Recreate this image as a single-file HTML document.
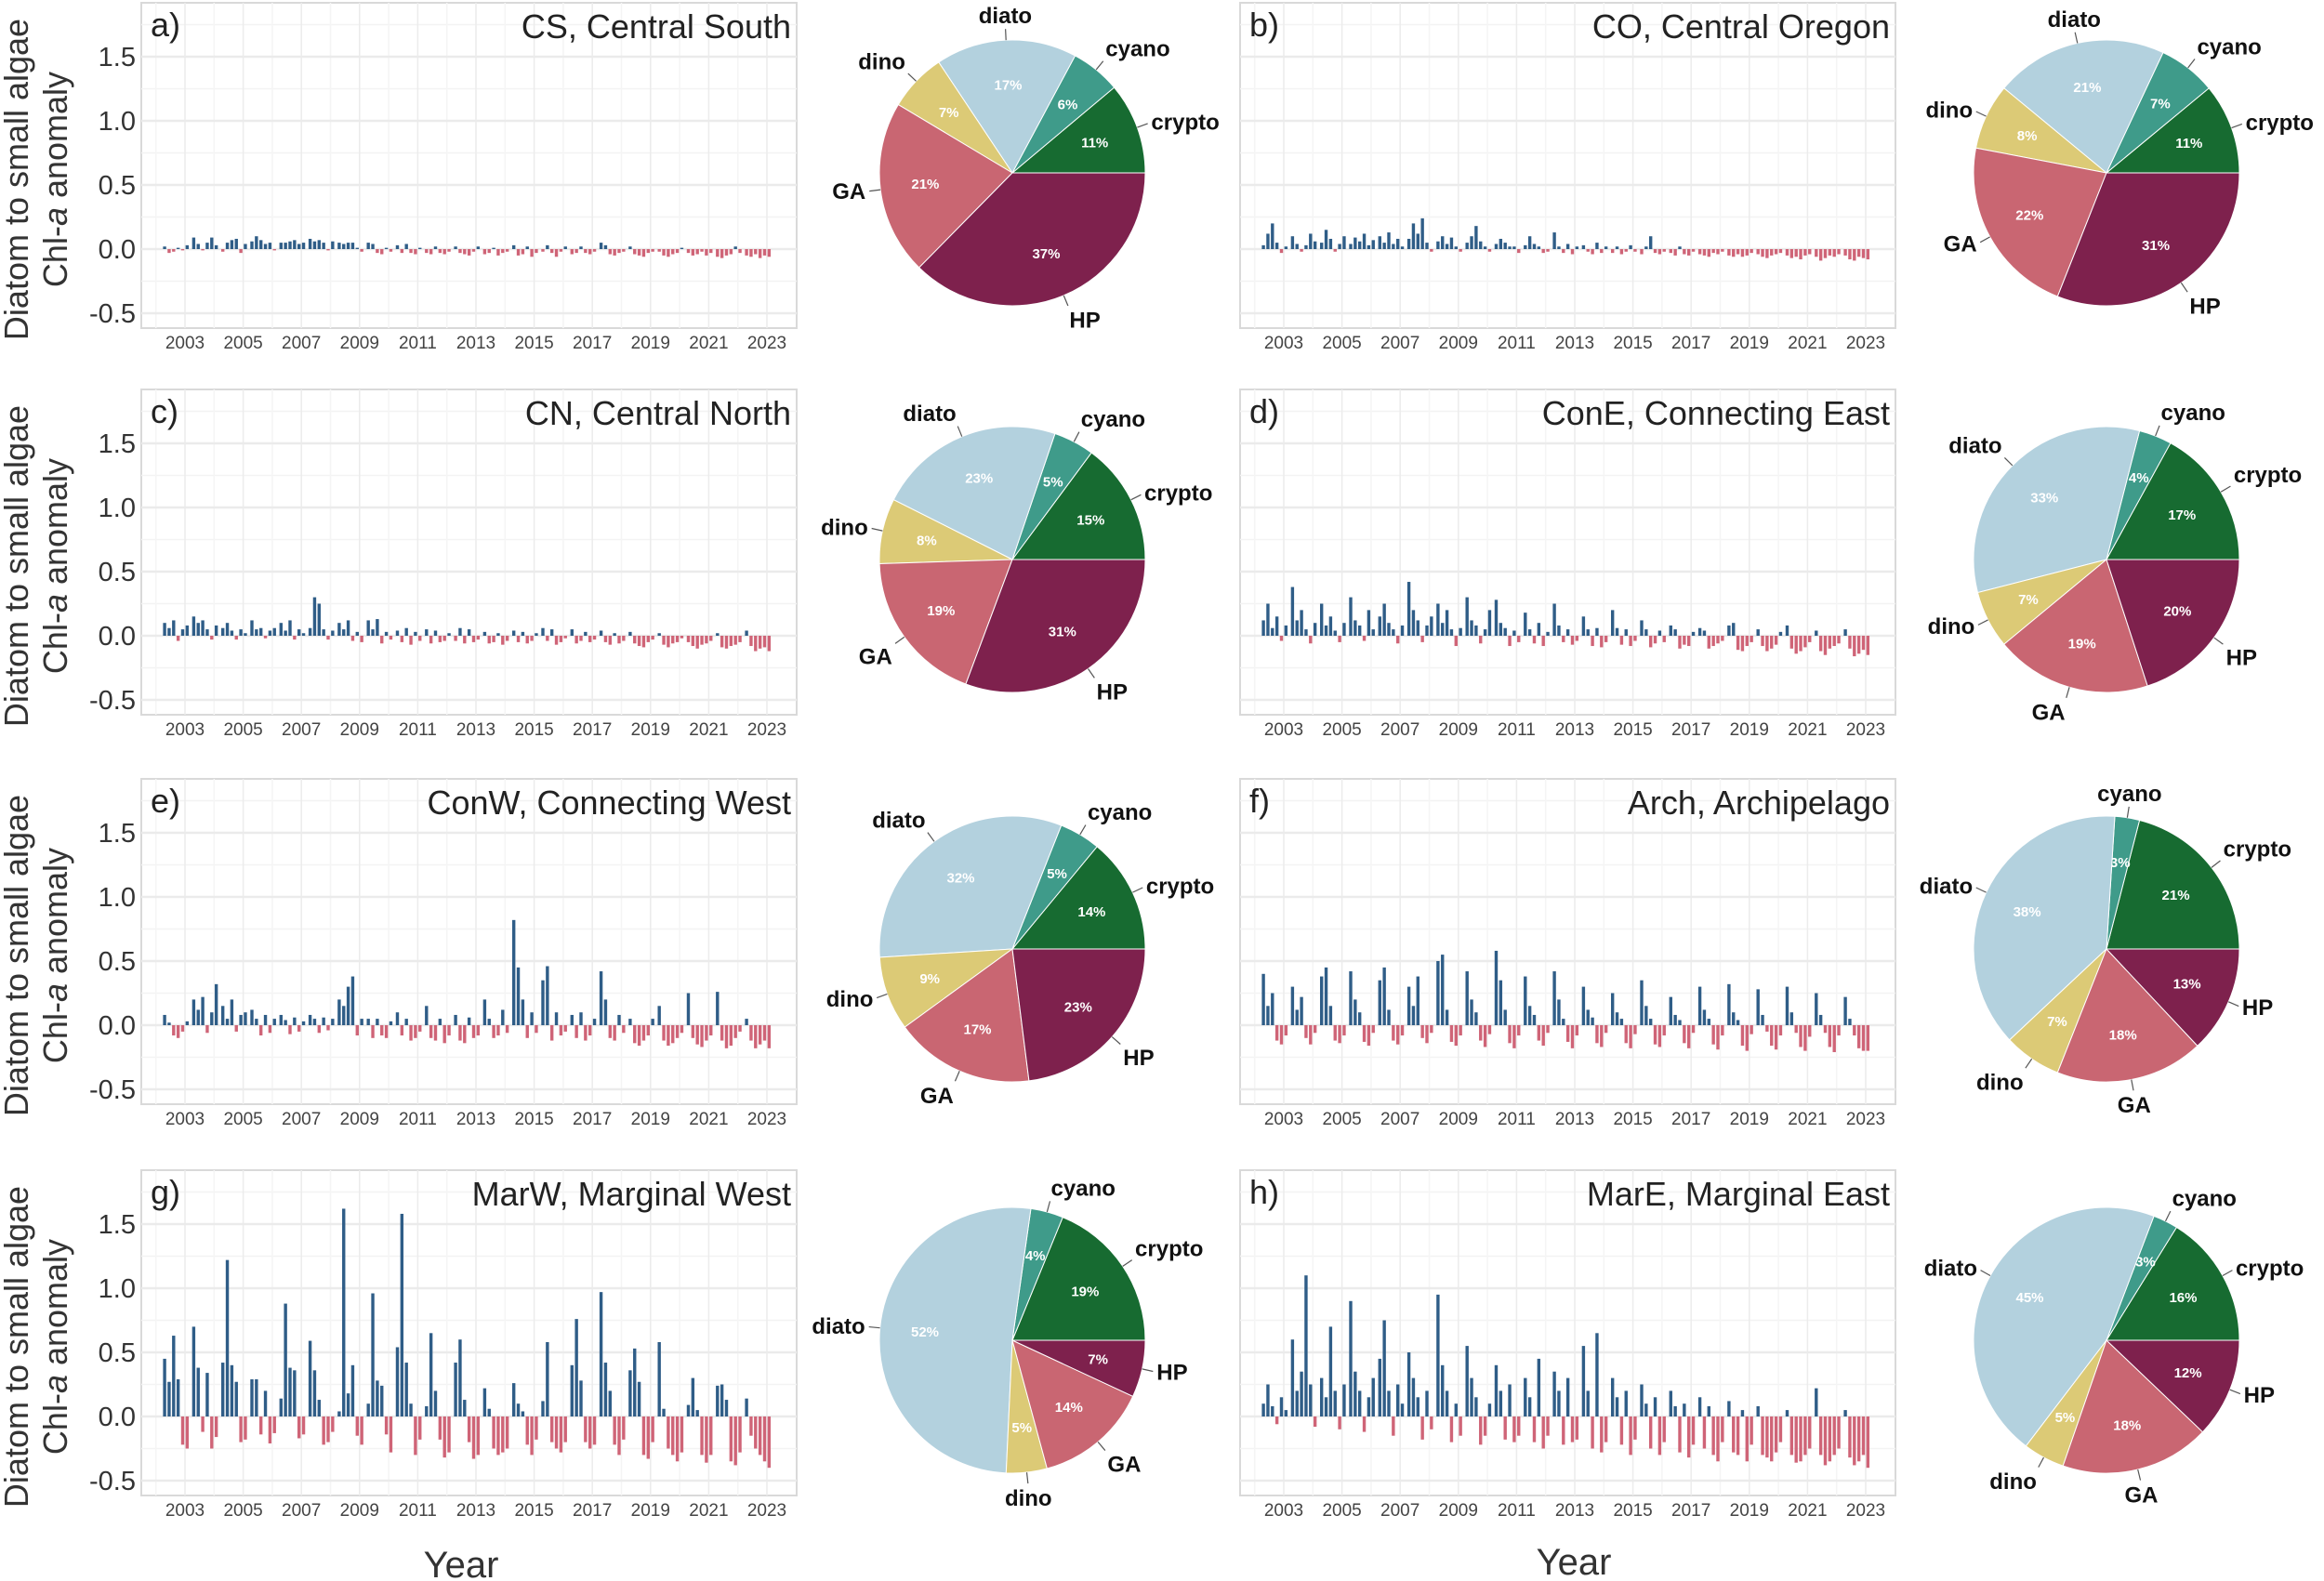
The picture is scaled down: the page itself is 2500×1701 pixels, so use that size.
<!DOCTYPE html>
<html><head><meta charset="utf-8">
<style>
html,body{margin:0;padding:0;background:#fff;}
svg{display:block;}
text{font-family:"Liberation Sans","DejaVu Sans",sans-serif;}
</style></head>
<body>
<svg id="fig" width="2500" height="1701" viewBox="0 0 2500 1701" xmlns="http://www.w3.org/2000/svg"></svg>
<script>
// ---- data ----
const yTicks = [-0.5, 0.0, 0.5, 1.0, 1.5];
const yTickLabels = ["-0.5", "0.0", "0.5", "1.0", "1.5"];
const yearTicks = [2003,2005,2007,2009,2011,2013,2015,2017,2019,2021,2023];
const startYear = 2002;
const pieGroups = ["crypto","cyano","diato","dino","GA","HP"];
const pieColors = ["#176b31","#3f9b8a","#b3d1de","#dcca76","#c96672","#7e214d"];

const seriesCS = [0.02,-0.03,-0.02,0.01,-0.01,0.03, 0.09,0.04,-0.01,0.05,0.09,0.03, -0.02,0.05,0.07,0.08,-0.03,0.04, 0.06,0.1,0.07,0.04,0.05,-0.01, 0.05,0.05,0.06,0.07,0.04,0.05, 0.08,0.06,0.07,0.05,-0.01,0.06, 0.05,0.04,0.05,0.05,0.01,-0.02, 0.05,0.04,-0.03,-0.04,0.01,-0.02, 0.03,-0.03,0.04,-0.03,-0.04,0.01, -0.03,-0.04,0.02,-0.03,-0.04,-0.02, 0.02,-0.03,-0.04,-0.05,-0.02,0.02, -0.04,-0.03,0.01,-0.05,-0.03,-0.02, 0.03,-0.05,-0.04,0.02,-0.06,-0.03, -0.02,0.03,-0.03,-0.06,-0.02,0.02, -0.04,-0.03,0.02,-0.03,-0.04,-0.02, 0.05,0.03,-0.04,-0.05,-0.03,-0.02, 0.02,-0.04,-0.05,-0.06,-0.03,-0.02, -0.02,-0.05,-0.06,-0.04,-0.03,0.01, -0.03,-0.05,-0.04,-0.02,-0.05,-0.03, -0.06,-0.07,-0.05,-0.04,0.02,-0.03, -0.05,-0.06,-0.04,-0.07,-0.05,-0.06];
const seriesCO = [0.03,0.12,0.2,0.05,-0.03,0.02, 0.1,0.04,-0.02,0.03,0.12,0.06, 0.05,0.15,0.08,-0.02,0.04,0.1, 0.04,0.09,0.06,0.12,0.03,0.07, 0.1,0.05,0.13,0.04,0.08,0.02, 0.08,0.2,0.12,0.24,0.05,-0.02, 0.06,0.1,0.04,0.09,0.02,-0.02, 0.05,0.1,0.18,0.06,0.02,-0.02, 0.04,0.08,0.05,0.02,0.02,-0.03, 0.03,0.1,0.04,0.02,-0.03,-0.02, 0.13,0.02,-0.03,0.04,-0.04,0.02, 0.03,-0.02,-0.04,0.05,-0.03,0.02, -0.03,0.02,-0.04,-0.02,0.03,-0.02, -0.04,0.02,0.1,-0.03,-0.04,-0.02, -0.03,-0.05,0.02,-0.04,-0.05,-0.02, -0.04,-0.05,-0.06,-0.03,-0.04,-0.02, -0.05,-0.06,-0.04,-0.06,-0.05,-0.03, -0.04,-0.06,-0.07,-0.05,-0.04,-0.03, -0.05,-0.07,-0.06,-0.08,-0.05,-0.04, -0.06,-0.09,-0.07,-0.05,-0.06,-0.04, -0.05,-0.08,-0.09,-0.06,-0.07,-0.08];
const seriesCN = [0.1,0.06,0.12,-0.04,0.05,0.08, 0.15,0.1,0.12,0.05,-0.03,0.08, 0.06,0.1,0.04,-0.03,0.05,0.02, 0.12,0.05,0.06,-0.02,0.04,0.06, 0.1,0.04,0.12,-0.03,0.05,0.02, 0.06,0.3,0.25,0.05,-0.03,0.04, 0.1,0.05,0.12,-0.04,0.03,-0.05, 0.12,0.05,0.13,-0.06,0.03,-0.03, 0.04,-0.05,0.06,-0.07,0.03,-0.04, 0.05,-0.06,0.04,-0.05,-0.04,0.02, -0.04,0.06,-0.06,0.05,-0.05,-0.03, 0.03,-0.06,-0.05,0.02,-0.07,-0.04, 0.04,-0.05,0.03,-0.06,-0.04,0.02, 0.06,-0.04,0.05,-0.07,-0.05,-0.02, 0.05,-0.06,-0.04,0.03,-0.05,-0.03, 0.04,-0.05,-0.07,0.02,-0.06,-0.04, 0.03,-0.06,-0.08,-0.09,-0.05,-0.03, 0.02,-0.07,-0.09,-0.06,-0.05,-0.02, -0.05,-0.08,-0.1,-0.07,-0.06,-0.04, 0.02,-0.09,-0.1,-0.08,-0.07,-0.05, 0.04,-0.08,-0.12,-0.1,-0.09,-0.12];
const seriesConE = [0.12,0.25,0.06,0.15,-0.04,0.08, 0.38,0.12,0.2,0.05,-0.06,0.1, 0.25,0.08,0.15,0.04,-0.05,0.1, 0.3,0.12,0.08,-0.04,0.2,0.05, 0.15,0.25,0.1,0.05,-0.06,0.08, 0.42,0.2,0.12,-0.05,0.08,0.15, 0.25,0.1,0.2,0.05,-0.08,0.06, 0.3,0.12,0.08,-0.06,0.05,0.2, 0.28,0.1,0.06,-0.08,0.04,-0.05, 0.18,0.05,-0.06,0.1,-0.08,0.03, 0.25,0.08,-0.05,0.05,-0.07,-0.04, 0.15,0.05,-0.08,0.06,-0.09,-0.05, 0.2,0.06,-0.07,0.05,-0.08,-0.04, 0.12,0.05,-0.09,-0.06,0.04,-0.05, 0.08,0.05,-0.1,-0.07,-0.08,0.03, 0.06,0.04,-0.1,-0.08,-0.06,-0.04, 0.08,0.1,-0.11,-0.12,-0.08,-0.05, 0.05,-0.08,-0.12,-0.1,-0.07,0.03, 0.08,-0.1,-0.14,-0.12,-0.09,-0.05, 0.04,-0.12,-0.15,-0.1,-0.08,-0.06, 0.05,-0.1,-0.16,-0.14,-0.11,-0.15];
const seriesConW = [0.08,0.02,-0.08,-0.1,-0.05,0.03, 0.2,0.12,0.22,-0.06,0.1,0.32, 0.15,0.05,0.2,-0.05,0.08,0.1, 0.12,0.05,-0.08,0.08,-0.06,0.05, 0.08,0.04,-0.07,0.06,-0.05,0.03, 0.08,0.05,-0.06,0.06,-0.04,0.05, 0.2,0.15,0.3,0.38,-0.08,0.05, 0.05,-0.1,0.05,-0.08,-0.1,0.03, 0.1,-0.08,0.05,-0.12,-0.1,-0.05, 0.15,-0.1,-0.12,0.05,-0.14,-0.08, 0.08,-0.12,-0.14,0.06,-0.1,-0.08, 0.2,0.05,-0.1,-0.08,0.12,-0.06, 0.82,0.45,0.2,-0.1,0.1,-0.06, 0.35,0.46,-0.12,0.1,-0.08,-0.05, 0.08,-0.1,0.1,-0.12,-0.08,0.05, 0.42,0.2,-0.1,-0.12,0.08,-0.06, 0.05,-0.14,-0.16,-0.12,-0.08,0.05, 0.15,-0.12,-0.16,-0.14,-0.1,-0.06, 0.25,-0.1,-0.15,-0.17,-0.12,-0.08, 0.26,-0.12,-0.18,-0.16,-0.1,-0.05, 0.05,-0.12,-0.18,-0.15,-0.12,-0.18];
const seriesArch = [0.4,0.15,0.25,-0.12,-0.15,-0.08, 0.3,0.12,0.22,-0.1,-0.15,-0.06, 0.38,0.45,0.15,-0.12,-0.14,-0.08, 0.42,0.2,0.1,-0.13,-0.16,-0.06, 0.35,0.45,0.12,-0.12,-0.15,-0.08, 0.3,0.15,0.38,-0.1,-0.14,-0.06, 0.5,0.55,0.12,-0.13,-0.16,-0.08, 0.42,0.2,0.1,-0.12,-0.17,-0.07, 0.58,0.35,0.12,-0.14,-0.18,-0.08, 0.38,0.15,0.08,-0.12,-0.16,-0.06, 0.42,0.2,0.05,-0.13,-0.18,-0.08, 0.3,0.12,0.06,-0.14,-0.17,-0.06, 0.25,0.1,0.05,-0.14,-0.18,-0.07, 0.35,0.15,0.05,-0.15,-0.17,-0.08, 0.22,0.08,0.04,-0.14,-0.18,-0.06, 0.3,0.12,0.05,-0.15,-0.19,-0.08, 0.32,0.1,0.04,-0.16,-0.2,-0.07, 0.28,0.08,-0.05,-0.16,-0.19,-0.08, 0.3,0.1,-0.06,-0.17,-0.2,-0.09, 0.25,0.08,-0.06,-0.17,-0.21,-0.08, 0.22,0.05,-0.08,-0.18,-0.2,-0.2];
const seriesMarW = [0.45,0.27,0.63,0.29,-0.22,-0.25, 0.7,0.38,-0.12,0.34,-0.25,-0.16, 0.42,1.22,0.4,0.27,-0.2,-0.18, 0.29,0.29,-0.14,0.2,-0.21,-0.13, 0.14,0.88,0.38,0.36,-0.17,-0.14, 0.59,0.36,0.13,-0.22,-0.2,-0.12, 0.04,1.62,0.18,0.4,-0.15,-0.22, 0.1,0.96,0.28,0.24,-0.14,-0.28, 0.54,1.58,0.42,0.1,-0.3,-0.18, 0.08,0.65,0.2,-0.18,-0.32,-0.28, 0.42,0.6,0.13,-0.2,-0.33,-0.3, 0.22,0.06,-0.25,-0.3,-0.28,-0.25, 0.26,0.1,0.04,-0.22,-0.3,-0.18, 0.12,0.58,-0.2,-0.25,-0.28,-0.2, 0.4,0.76,0.28,-0.2,-0.25,-0.22, 0.97,0.42,0.2,-0.22,-0.3,-0.18, 0.36,0.53,0.27,-0.3,-0.33,-0.2, 0.58,0.06,-0.25,-0.3,-0.35,-0.28, 0.09,0.3,0.05,-0.3,-0.36,-0.3, 0.24,0.25,0.13,-0.35,-0.38,-0.28, 0.14,-0.15,-0.25,-0.3,-0.35,-0.4];
const seriesMarE = [0.1,0.25,0.08,-0.06,0.15,0.05, 0.6,0.2,0.35,1.1,0.25,-0.08, 0.3,0.15,0.7,0.2,-0.1,0.25, 0.9,0.35,0.2,-0.12,0.15,0.3, 0.45,0.75,0.2,-0.15,0.25,0.1, 0.5,0.3,0.15,-0.18,0.2,-0.1, 0.95,0.4,0.2,-0.2,0.1,-0.15, 0.55,0.3,0.15,-0.22,-0.15,0.1, 0.4,0.2,-0.18,0.25,-0.2,-0.15, 0.3,0.15,-0.2,0.45,-0.25,-0.15, 0.35,0.2,-0.22,0.3,-0.2,-0.18, 0.55,0.2,-0.25,0.65,-0.28,-0.2, 0.3,0.15,-0.22,0.2,-0.3,-0.18, 0.25,0.1,-0.25,0.15,-0.3,-0.2, 0.2,0.08,-0.28,0.1,-0.32,-0.22, 0.15,-0.25,0.08,-0.3,-0.35,-0.2, 0.12,-0.28,-0.3,0.05,-0.35,-0.22, 0.08,-0.3,-0.32,-0.35,-0.28,-0.2, 0.05,-0.3,-0.36,-0.35,-0.3,-0.25, 0.22,-0.3,-0.38,-0.35,-0.3,-0.25, 0.05,-0.32,-0.38,-0.35,-0.3,-0.4];

const pieCS   = [11,6,17,7,21,37];
const pieCO   = [11,7,21,8,22,31];
const pieCN   = [15,5,23,8,19,31];
const pieConE = [17,4,33,7,19,20];
const pieConW = [14,5,32,9,17,23];
const pieArch = [21,3,38,7,18,13];
const pieMarW = [19,4,52,5,14,7];
const pieMarE = [16,3,45,5,18,12];

const panelLetters = ["a)","b)","c)","d)","e)","f)","g)","h)"];
const panelCodes = ["CS","CO","CN","ConE","ConW","Arch","MarW","MarE"];
const panelNames = ["Central South","Central Oregon","Central North","Connecting East","Connecting West","Archipelago","Marginal West","Marginal East"];
const panelSeries = [seriesCS,seriesCO,seriesCN,seriesConE,seriesConW,seriesArch,seriesMarW,seriesMarE];
const panelPies = [pieCS,pieCO,pieCN,pieConE,pieConW,pieArch,pieMarW,pieMarE];

// ---- drawing ----
const NS = "http://www.w3.org/2000/svg";
const svg = document.getElementById("fig");
function mk(tag, attrs, parent){
  const e = document.createElementNS(NS, tag);
  for (const k in attrs) e.setAttribute(k, attrs[k]);
  (parent||svg).appendChild(e);
  return e;
}
const rowTops = [3, 419, 838, 1259];
const colLefts = [152, 1334];
const boxW = 705, boxH = 350;
const pieCX = [1089, 2266];
const R = 143;
const perYear = 6;

for (let p = 0; p < 8; p++) {
  const row = Math.floor(p/2), col = p%2;
  const L = colLefts[col], T = rowTops[row];
  const g = mk("g", {});
  
  
  const yS = v => T + 265 - v*138;
  const xS = yr => L + 47 + (yr-2003)*31.3;
  mk("rect", {x:L, y:T, width:boxW, height:boxH, fill:"#fff", stroke:"#d9d9d9", "stroke-width":2}, g);
  for (let v = -0.75; v <= 1.76; v += 0.5) {
    if (yS(v) > T && yS(v) < T+boxH) mk("line",{x1:L,x2:L+boxW,y1:yS(v),y2:yS(v),stroke:"#f3f3f3","stroke-width":1.5},g);
  }
  for (let yr = 2002; yr <= 2023; yr++) {
    mk("line",{x1:xS(yr),x2:xS(yr),y1:T,y2:T+boxH,stroke:(yr%2? "#ececec":"#f5f5f5"),"stroke-width":1.5},g);
  }
  yTicks.forEach((v,i) => {
    mk("line",{x1:L,x2:L+boxW,y1:yS(v),y2:yS(v),stroke:"#ebebeb","stroke-width":2.5},g);
    if (col === 0) {
      const t = mk("text",{x:L-6,y:yS(v)+10,"text-anchor":"end","font-size":29,fill:"#333"},g);
      t.textContent = yTickLabels[i];
      
      
    }
  });
  yearTicks.forEach(yr => {
    const t = mk("text",{x:xS(yr),y:T+boxH+22,"text-anchor":"middle","font-size":19,fill:"#444"},g);
    t.textContent = yr;
    
    
  });
  const s = panelSeries[p];
  s.forEach((v,i) => {
    const yr = startYear + Math.floor(i/perYear) + 0.3 + (i%perYear)*0.155;
    const x = xS(yr);
    const y0 = yS(0), y1 = yS(v);
    const r = mk("rect",{x:x-1.7, y:Math.min(y0,y1), width:3.4, height:Math.max(0.8,Math.abs(y1-y0)), fill: v>=0 ? "#2f5d87" : "#cf6477"},g);
    
    
  });
  const lt = mk("text",{x:L+10,y:T+36,"font-size":36,fill:"#222"},g);
  lt.textContent = panelLetters[p];
  
  
  const tt = mk("text",{x:L+boxW-6,y:T+38,"text-anchor":"end","font-size":36,fill:"#222"},g);
  tt.textContent = panelCodes[p] + ", " + panelNames[p];
  
  

  if (col === 0) {
    const cy = T + 190;
    const a = mk("text",{x:0,y:0,"text-anchor":"middle","font-size":36,fill:"#333",transform:`translate(30,${cy}) rotate(-90)`});
    a.textContent = "Diatom to small algae";
    
    
    const b = mk("text",{x:0,y:0,"text-anchor":"middle","font-size":36,fill:"#333",transform:`translate(72,${cy}) rotate(-90)`});
    b.innerHTML = 'Chl-<tspan font-style="italic">a</tspan> anomaly';
    
    
  }

  const pg = mk("g", {});
  
  
  const cx = pieCX[col], cy = T + 183;
  const vals = panelPies[p];
  const tot = vals.reduce((a,b)=>a+b,0);
  let ang = 0;
  vals.forEach((v,i) => {
    const a0 = ang, a1 = ang + v/tot*2*Math.PI;
    ang = a1;
    const P = a => [cx + R*Math.cos(a), cy - R*Math.sin(a)];
    const [x0,y0] = P(a0), [x1,y1] = P(a1);
    const large = (a1-a0) > Math.PI ? 1 : 0;
    const sl = mk("path",{d:`M${cx},${cy} L${x0},${y0} A${R},${R} 0 ${large} 0 ${x1},${y1} Z`, fill:pieColors[i], stroke:"#fff","stroke-width":1},pg);
    
    
    const am = (a0+a1)/2, c = Math.cos(am), sn = Math.sin(am);
    const pt = mk("text",{x:cx + 0.66*R*c, y:cy - 0.66*R*sn + 5, "text-anchor":"middle","font-size":15,"font-weight":"bold",fill:"#fff"},pg);
    pt.textContent = v + "%";
    
    
    mk("line",{x1:cx+R*c,y1:cy-R*sn,x2:cx+(R+12)*c,y2:cy-(R+12)*sn,stroke:"#555","stroke-width":1.2},pg);
    const lx = cx + (R+16)*c, ly = cy - (R+16)*sn;
    const anchor = Math.abs(c) < 0.25 ? "middle" : (c > 0 ? "start" : "end");
    const dy = sn > 0.5 ? -2 : (sn < -0.5 ? 20 : 8);
    const lb = mk("text",{x:lx, y:ly+dy, "text-anchor":anchor, "font-size":24, "font-weight":"bold", fill:"#111"},pg);
    lb.textContent = pieGroups[i];
    
    
  });
}
const x1 = mk("text",{x:496,y:1697,"text-anchor":"middle","font-size":40,fill:"#333"});
x1.textContent = "Year";


const x2 = mk("text",{x:1693,y:1694,"text-anchor":"middle","font-size":40,fill:"#333"});
x2.textContent = "Year";


</script>
</body></html>
